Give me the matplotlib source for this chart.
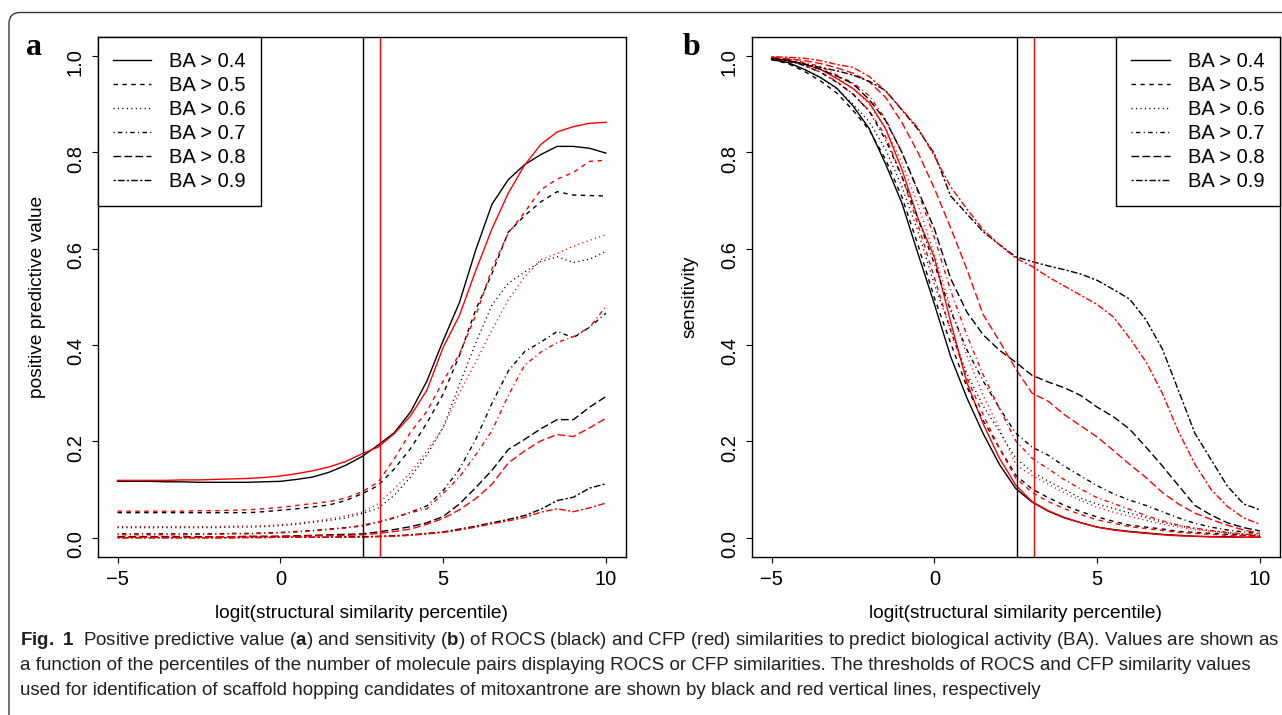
import matplotlib
matplotlib.use("Agg")
import matplotlib.pyplot as plt
from matplotlib.lines import Line2D
from matplotlib.patches import FancyBboxPatch
from matplotlib.transforms import IdentityTransform

plt.rcParams['font.family'] = ['Liberation Sans', 'DejaVu Sans']
plt.rcParams['mathtext.fontset'] = 'custom'
plt.rcParams['mathtext.rm'] = 'Liberation Sans'
plt.rcParams['mathtext.bf'] = 'Liberation Sans:bold'

# logit(structural similarity percentile)
logit_x = [-5.0, -4.5, -4.0, -3.5, -3.0, -2.5, -2.0, -1.5, -1.0, -0.5, 0.0,
           0.5, 1.0, 1.5, 2.0, 2.5, 3.0, 3.5, 4.0, 4.5, 5.0, 5.5, 6.0, 6.5,
           7.0, 7.5, 8.0, 8.5, 9.0, 9.5, 10.0]

ba_labels = ["BA > 0.4", "BA > 0.5", "BA > 0.6", "BA > 0.7", "BA > 0.8", "BA > 0.9"]

# thresholds used for mitoxantrone (vertical lines)
rocs_cut = 2.54
cfp_cut = 3.06

# panel a: positive predictive value
ppv_rocs_04 = [0.117, 0.117, 0.117, 0.116, 0.116, 0.115, 0.115, 0.115, 0.115, 0.116, 0.117, 0.121, 0.126, 0.136, 0.150, 0.168, 0.192, 0.218, 0.261, 0.325, 0.409, 0.488, 0.597, 0.692, 0.743, 0.774, 0.795, 0.812, 0.812, 0.808, 0.798]
ppv_cfp_04 = [0.119, 0.119, 0.119, 0.119, 0.120, 0.120, 0.121, 0.122, 0.123, 0.125, 0.128, 0.133, 0.139, 0.147, 0.158, 0.174, 0.188, 0.216, 0.253, 0.306, 0.395, 0.461, 0.554, 0.641, 0.715, 0.773, 0.816, 0.842, 0.853, 0.860, 0.862]
ppv_rocs_05 = [0.052, 0.052, 0.052, 0.052, 0.052, 0.052, 0.052, 0.052, 0.052, 0.054, 0.057, 0.060, 0.064, 0.068, 0.077, 0.091, 0.108, 0.143, 0.185, 0.238, 0.298, 0.378, 0.473, 0.548, 0.634, 0.668, 0.697, 0.718, 0.711, 0.710, 0.709]
ppv_cfp_05 = [0.055, 0.055, 0.055, 0.055, 0.055, 0.056, 0.056, 0.057, 0.058, 0.060, 0.063, 0.067, 0.071, 0.075, 0.082, 0.095, 0.115, 0.164, 0.219, 0.262, 0.325, 0.381, 0.461, 0.558, 0.632, 0.675, 0.722, 0.744, 0.758, 0.781, 0.783]
ppv_rocs_06 = [0.021, 0.021, 0.021, 0.021, 0.021, 0.021, 0.021, 0.022, 0.022, 0.023, 0.025, 0.028, 0.032, 0.036, 0.041, 0.050, 0.061, 0.088, 0.126, 0.172, 0.229, 0.318, 0.404, 0.483, 0.528, 0.551, 0.573, 0.583, 0.571, 0.578, 0.594]
ppv_cfp_06 = [0.023, 0.023, 0.023, 0.023, 0.023, 0.023, 0.023, 0.024, 0.024, 0.025, 0.027, 0.030, 0.034, 0.039, 0.045, 0.053, 0.070, 0.102, 0.135, 0.180, 0.228, 0.301, 0.364, 0.431, 0.494, 0.541, 0.577, 0.590, 0.605, 0.617, 0.629]
ppv_rocs_07 = [0.008, 0.008, 0.008, 0.008, 0.008, 0.008, 0.008, 0.009, 0.009, 0.010, 0.011, 0.013, 0.015, 0.018, 0.021, 0.024, 0.032, 0.041, 0.053, 0.066, 0.098, 0.142, 0.204, 0.279, 0.346, 0.386, 0.406, 0.428, 0.415, 0.437, 0.466]
ppv_cfp_07 = [0.006, 0.006, 0.006, 0.006, 0.006, 0.007, 0.007, 0.008, 0.008, 0.009, 0.010, 0.012, 0.014, 0.017, 0.020, 0.026, 0.033, 0.042, 0.052, 0.060, 0.092, 0.126, 0.172, 0.222, 0.295, 0.358, 0.385, 0.405, 0.417, 0.437, 0.480]
ppv_rocs_08 = [0.002, 0.002, 0.002, 0.002, 0.002, 0.002, 0.002, 0.002, 0.003, 0.003, 0.003, 0.004, 0.005, 0.006, 0.007, 0.008, 0.012, 0.017, 0.023, 0.031, 0.044, 0.070, 0.104, 0.140, 0.183, 0.204, 0.226, 0.245, 0.245, 0.271, 0.293]
ppv_cfp_08 = [0.001, 0.001, 0.001, 0.001, 0.001, 0.001, 0.002, 0.002, 0.002, 0.002, 0.003, 0.003, 0.004, 0.004, 0.005, 0.006, 0.009, 0.013, 0.018, 0.028, 0.040, 0.058, 0.081, 0.111, 0.155, 0.180, 0.201, 0.214, 0.210, 0.228, 0.248]
ppv_rocs_09 = [0.000, 0.000, 0.000, 0.000, 0.000, 0.000, 0.000, 0.000, 0.001, 0.001, 0.001, 0.001, 0.001, 0.001, 0.002, 0.002, 0.003, 0.004, 0.006, 0.009, 0.012, 0.018, 0.024, 0.031, 0.038, 0.046, 0.059, 0.077, 0.084, 0.103, 0.112]
ppv_cfp_09 = [0.000, 0.000, 0.000, 0.000, 0.000, 0.000, 0.000, 0.000, 0.000, 0.000, 0.001, 0.001, 0.001, 0.001, 0.001, 0.001, 0.002, 0.003, 0.005, 0.008, 0.011, 0.016, 0.022, 0.029, 0.035, 0.042, 0.053, 0.060, 0.054, 0.062, 0.072]

# panel b: sensitivity
sens_rocs_04 = [0.992, 0.986, 0.972, 0.955, 0.933, 0.896, 0.849, 0.776, 0.695, 0.589, 0.485, 0.376, 0.290, 0.216, 0.152, 0.102, 0.074, 0.055, 0.041, 0.031, 0.022, 0.017, 0.013, 0.010, 0.007, 0.005, 0.003, 0.002, 0.002, 0.001, 0.001]
sens_cfp_04 = [0.995, 0.990, 0.983, 0.972, 0.953, 0.932, 0.903, 0.849, 0.765, 0.662, 0.582, 0.448, 0.322, 0.236, 0.165, 0.109, 0.075, 0.056, 0.042, 0.031, 0.022, 0.016, 0.012, 0.009, 0.006, 0.004, 0.003, 0.002, 0.001, 0.001, 0.001]
sens_rocs_05 = [0.992, 0.984, 0.968, 0.948, 0.923, 0.887, 0.846, 0.785, 0.708, 0.607, 0.498, 0.404, 0.313, 0.243, 0.186, 0.130, 0.101, 0.083, 0.067, 0.054, 0.043, 0.034, 0.026, 0.022, 0.018, 0.013, 0.011, 0.009, 0.007, 0.005, 0.004]
sens_cfp_05 = [0.995, 0.990, 0.980, 0.966, 0.947, 0.920, 0.886, 0.833, 0.750, 0.649, 0.540, 0.430, 0.332, 0.255, 0.185, 0.124, 0.094, 0.075, 0.060, 0.048, 0.037, 0.030, 0.023, 0.019, 0.015, 0.011, 0.009, 0.007, 0.005, 0.004, 0.003]
sens_rocs_06 = [0.994, 0.985, 0.972, 0.955, 0.932, 0.900, 0.863, 0.806, 0.729, 0.635, 0.526, 0.432, 0.340, 0.274, 0.220, 0.165, 0.137, 0.117, 0.100, 0.082, 0.070, 0.061, 0.051, 0.042, 0.032, 0.025, 0.019, 0.014, 0.010, 0.007, 0.005]
sens_cfp_06 = [0.995, 0.990, 0.983, 0.972, 0.955, 0.932, 0.900, 0.850, 0.779, 0.690, 0.588, 0.478, 0.378, 0.295, 0.226, 0.152, 0.129, 0.111, 0.093, 0.077, 0.063, 0.053, 0.044, 0.036, 0.028, 0.022, 0.017, 0.013, 0.010, 0.007, 0.004]
sens_rocs_07 = [0.994, 0.989, 0.980, 0.966, 0.945, 0.921, 0.885, 0.826, 0.750, 0.662, 0.568, 0.471, 0.390, 0.325, 0.269, 0.217, 0.188, 0.171, 0.148, 0.128, 0.108, 0.091, 0.078, 0.067, 0.054, 0.041, 0.030, 0.022, 0.016, 0.012, 0.008]
sens_cfp_07 = [0.997, 0.993, 0.986, 0.978, 0.960, 0.944, 0.917, 0.869, 0.800, 0.717, 0.623, 0.513, 0.420, 0.338, 0.268, 0.201, 0.165, 0.143, 0.120, 0.101, 0.083, 0.071, 0.059, 0.046, 0.035, 0.026, 0.020, 0.015, 0.011, 0.008, 0.006]
sens_rocs_08 = [0.995, 0.991, 0.983, 0.972, 0.958, 0.942, 0.909, 0.866, 0.800, 0.720, 0.641, 0.538, 0.468, 0.421, 0.389, 0.364, 0.337, 0.323, 0.311, 0.295, 0.271, 0.251, 0.225, 0.188, 0.149, 0.108, 0.067, 0.047, 0.031, 0.021, 0.014]
sens_cfp_08 = [0.997, 0.994, 0.990, 0.984, 0.975, 0.964, 0.946, 0.914, 0.862, 0.799, 0.725, 0.643, 0.557, 0.463, 0.408, 0.350, 0.300, 0.283, 0.255, 0.232, 0.209, 0.181, 0.152, 0.125, 0.094, 0.070, 0.051, 0.038, 0.026, 0.016, 0.009]
sens_rocs_09 = [0.995, 0.989, 0.983, 0.976, 0.969, 0.960, 0.947, 0.928, 0.888, 0.847, 0.797, 0.709, 0.672, 0.635, 0.608, 0.583, 0.573, 0.564, 0.556, 0.547, 0.534, 0.515, 0.495, 0.452, 0.392, 0.305, 0.217, 0.162, 0.107, 0.070, 0.058]
sens_cfp_09 = [0.998, 0.997, 0.995, 0.990, 0.982, 0.976, 0.957, 0.927, 0.889, 0.850, 0.792, 0.728, 0.682, 0.639, 0.608, 0.580, 0.563, 0.541, 0.522, 0.503, 0.484, 0.458, 0.414, 0.365, 0.300, 0.220, 0.153, 0.100, 0.065, 0.041, 0.028]

ppv_rocs = [ppv_rocs_04, ppv_rocs_05, ppv_rocs_06, ppv_rocs_07, ppv_rocs_08, ppv_rocs_09]
ppv_cfp = [ppv_cfp_04, ppv_cfp_05, ppv_cfp_06, ppv_cfp_07, ppv_cfp_08, ppv_cfp_09]
sens_rocs = [sens_rocs_04, sens_rocs_05, sens_rocs_06, sens_rocs_07, sens_rocs_08, sens_rocs_09]
sens_cfp = [sens_cfp_04, sens_cfp_05, sens_cfp_06, sens_cfp_07, sens_cfp_08, sens_cfp_09]

# R lty 1..6
ltys = ['-', (0, (3.2, 3.2)), (0, (0.8, 2.4)), (0, (0.8, 2.4, 3.2, 2.4)),
        (0, (5.5, 2.4)), (0, (1.6, 1.6, 4.8, 1.6))]

W, H = 1282, 715
fig = plt.figure(figsize=(W / 100, H / 100), dpi=100)
fig.patch.set_facecolor('white')

ax_a = fig.add_axes([98 / W, 1 - 557 / H, 527.5 / W, 520.5 / H])
ax_b = fig.add_axes([752 / W, 1 - 557 / H, 527.5 / W, 520.5 / H])


def draw_panel(ax, black_sets, red_sets, legend_loc):
    for i in range(6):
        ax.plot(logit_x, black_sets[i], color='black', lw=1.0, linestyle=ltys[i])
        ax.plot(logit_x, red_sets[i], color='#ff0000', lw=1.0, linestyle=ltys[i])
    ax.axvline(rocs_cut, color='black', lw=1.0)
    ax.axvline(cfp_cut, color='#ff0000', lw=1.0)

    ax.set_xlim(-5.6, 10.6)
    ax.set_ylim(-0.04, 1.04)
    ax.set_xticks([-5, 0, 5, 10])
    ax.set_yticks([0, 0.2, 0.4, 0.6, 0.8, 1.0])
    ax.set_yticklabels(['0.0', '0.2', '0.4', '0.6', '0.8', '1.0'])
    ax.tick_params(direction='out', length=4.5, width=0.8, labelsize=14.5, pad=5)
    ax.tick_params(axis='y', labelrotation=90)
    for sp in ax.spines.values():
        sp.set_linewidth(1.0)

    handles = [Line2D([], [], color='black', lw=1.0, linestyle=s) for s in ltys]
    leg = ax.legend(handles, ba_labels, loc=legend_loc, fontsize=14.5,
                    fancybox=False, framealpha=1, edgecolor='black',
                    borderaxespad=0, handlelength=1.9, handletextpad=0.9,
                    labelspacing=0.25, borderpad=0.75)
    leg.get_frame().set_linewidth(1.0)


draw_panel(ax_a, ppv_rocs, ppv_cfp, 'upper left')
draw_panel(ax_b, sens_rocs, sens_cfp, 'upper right')

# axis titles
title_y = 1 - 618 / H
fig.text((98 + 625.5) / 2 / W, title_y, 'logit(structural similarity percentile)',
         ha='center', va='baseline', fontsize=13.8)
fig.text((752 + 1279.5) / 2 / W, title_y, 'logit(structural similarity percentile)',
         ha='center', va='baseline', fontsize=13.8)
ymid = 1 - (36.5 + 557) / 2 / H
fig.text(38 / W, ymid, 'positive predictive value', rotation=90,
         ha='center', va='center', fontsize=13.8)
fig.text(690 / W, ymid, 'sensitivity', rotation=90,
         ha='center', va='center', fontsize=13.8)

# panel letters
fig.text(26 / W, 1 - 55 / H, 'a', family=['Liberation Serif', 'DejaVu Serif'],
         weight='bold', fontsize=23, ha='left', va='baseline')
fig.text(683 / W, 1 - 55 / H, 'b', family=['Liberation Serif', 'DejaVu Serif'],
         weight='bold', fontsize=23, ha='left', va='baseline')

# caption
cap_lines = [
    r"$\mathbf{Fig.}$ $\mathbf{1}$  Positive predictive value ($\mathbf{a}$) and sensitivity ($\mathbf{b}$) "
    "of ROCS (black) and CFP (red) similarities to predict biological activity (BA). Values are shown as",
    "a function of the percentiles of the number of molecule pairs displaying ROCS or CFP similarities. "
    "The thresholds of ROCS and CFP similarity values",
    "used for identification of scaffold hopping candidates of mitoxantrone are shown by black and red "
    "vertical lines, respectively",
]
cap_family = ['Liberation Sans', 'DejaVu Sans']
cap_texts = []
for k, line in enumerate(cap_lines):
    cap_texts.append(fig.text(20 / W, 1 - (645 + 25 * k) / H, line, ha='left',
                              va='baseline', fontsize=12, family=cap_family,
                              color='#231f20'))
fig.canvas.draw()
w0 = cap_texts[0].get_window_extent().width
size = 12 * 1256 / w0
for t in cap_texts:
    t.set_fontsize(size)

# rounded outer frame of the figure
frame = FancyBboxPatch((9, -40), 1400, H - 12.5 + 40,
                       boxstyle='round,pad=0,rounding_size=11',
                       transform=IdentityTransform(), fill=False,
                       lw=1.0, edgecolor='#3a3a3a')
frame.set_clip_on(False)
fig.add_artist(frame)

fig.savefig('out.png', dpi=100, facecolor='white')
